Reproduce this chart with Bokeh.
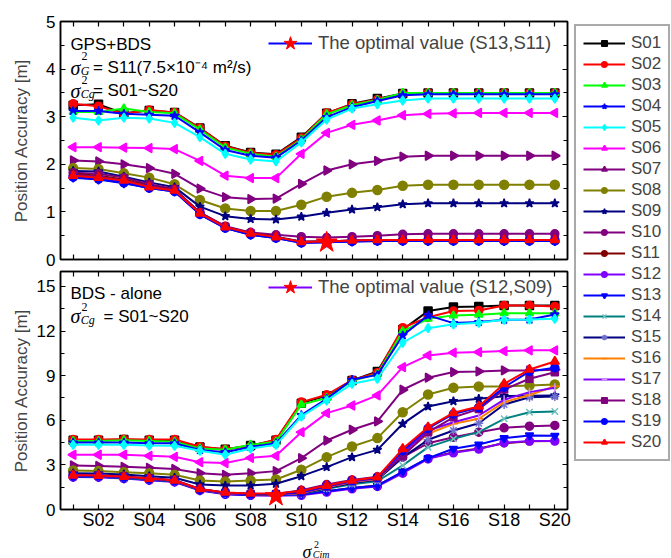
import math
from bokeh.plotting import figure
from bokeh.models import (Range1d, LinearAxis, FixedTicker, SingleIntervalTicker,
                          Legend, LegendItem, Label)
from bokeh.layouts import row, column
from bokeh.embed import file_html
from bokeh.resources import INLINE

# ---------------- data ----------------
X = list(range(1, 21))
TICK_LABELS = ["", "S02", "", "S04", "", "S06", "", "S08", "", "S10",
               "", "S12", "", "S14", "", "S16", "", "S18", "", "S20"]
NAMES = ["S01", "S02", "S03", "S04", "S05", "S06", "S07", "S08", "S09", "S10",
         "S11", "S12", "S13", "S14", "S15", "S16", "S17", "S18", "S19", "S20"]

# GPS+BDS panel
GB_S01 = [3.24, 3.26, 3.07, 3.13, 3.09, 2.76, 2.39, 2.25, 2.21, 2.57, 3.07, 3.27, 3.38, 3.49, 3.50, 3.50, 3.50, 3.50, 3.50, 3.50]
GB_S02 = [3.27, 3.22, 3.06, 3.14, 3.09, 2.76, 2.38, 2.24, 2.20, 2.55, 3.08, 3.26, 3.36, 3.48, 3.50, 3.50, 3.50, 3.50, 3.50, 3.50]
GB_S03 = [3.10, 3.10, 3.17, 3.10, 3.07, 2.73, 2.35, 2.22, 2.16, 2.52, 3.05, 3.24, 3.35, 3.50, 3.50, 3.50, 3.50, 3.50, 3.50, 3.50]
GB_S04 = [3.12, 3.12, 3.06, 3.04, 3.02, 2.67, 2.30, 2.18, 2.14, 2.50, 2.99, 3.20, 3.33, 3.45, 3.47, 3.47, 3.47, 3.47, 3.47, 3.47]
GB_S05 = [2.98, 2.92, 2.98, 2.96, 2.87, 2.57, 2.22, 2.10, 2.06, 2.46, 2.94, 3.17, 3.26, 3.34, 3.38, 3.38, 3.38, 3.38, 3.38, 3.38]
GB_S06 = [2.36, 2.36, 2.35, 2.34, 2.32, 2.07, 1.76, 1.71, 1.71, 2.22, 2.66, 2.83, 2.92, 3.03, 3.06, 3.07, 3.08, 3.08, 3.08, 3.08]
GB_S07 = [2.08, 2.06, 2.00, 1.92, 1.80, 1.49, 1.31, 1.27, 1.28, 1.59, 1.87, 2.00, 2.07, 2.16, 2.18, 2.18, 2.18, 2.18, 2.18, 2.18]
GB_S08 = [1.92, 1.90, 1.81, 1.72, 1.58, 1.25, 1.07, 1.02, 1.02, 1.15, 1.32, 1.40, 1.46, 1.55, 1.57, 1.57, 1.57, 1.57, 1.57, 1.57]
GB_S09 = [1.86, 1.85, 1.74, 1.62, 1.52, 1.11, 0.91, 0.85, 0.84, 0.90, 0.98, 1.05, 1.10, 1.16, 1.18, 1.18, 1.18, 1.18, 1.18, 1.18]
GB_S10 = [1.82, 1.80, 1.72, 1.58, 1.48, 0.99, 0.70, 0.57, 0.52, 0.48, 0.46, 0.48, 0.50, 0.53, 0.54, 0.54, 0.54, 0.54, 0.54, 0.54]
GB_S11 = [1.80, 1.76, 1.68, 1.55, 1.46, 0.98, 0.69, 0.55, 0.48, 0.38, 0.38, 0.40, 0.41, 0.41, 0.41, 0.41, 0.41, 0.41, 0.41, 0.41]
GB_S12 = [1.74, 1.70, 1.62, 1.51, 1.44, 0.96, 0.67, 0.53, 0.46, 0.36, 0.37, 0.39, 0.40, 0.40, 0.40, 0.40, 0.40, 0.40, 0.40, 0.40]
GB_S13 = [1.72, 1.68, 1.60, 1.50, 1.43, 0.95, 0.66, 0.52, 0.45, 0.35, 0.36, 0.38, 0.39, 0.39, 0.39, 0.39, 0.39, 0.39, 0.39, 0.39]
GB_S14 = [1.76, 1.72, 1.64, 1.53, 1.45, 0.97, 0.68, 0.54, 0.47, 0.37, 0.37, 0.39, 0.40, 0.40, 0.40, 0.40, 0.40, 0.40, 0.40, 0.40]
GB_S15 = [1.77, 1.73, 1.65, 1.53, 1.45, 0.97, 0.68, 0.54, 0.47, 0.37, 0.38, 0.39, 0.40, 0.41, 0.41, 0.41, 0.41, 0.41, 0.41, 0.41]
GB_S16 = [1.76, 1.72, 1.64, 1.52, 1.44, 0.96, 0.67, 0.54, 0.46, 0.36, 0.37, 0.39, 0.40, 0.40, 0.40, 0.40, 0.40, 0.40, 0.40, 0.40]
GB_S17 = [1.75, 1.71, 1.63, 1.52, 1.44, 0.96, 0.67, 0.53, 0.46, 0.36, 0.37, 0.39, 0.40, 0.40, 0.40, 0.40, 0.40, 0.40, 0.40, 0.40]
GB_S18 = [1.78, 1.74, 1.66, 1.54, 1.46, 0.98, 0.69, 0.55, 0.47, 0.37, 0.38, 0.40, 0.40, 0.41, 0.41, 0.41, 0.41, 0.41, 0.41, 0.41]
GB_S19 = [1.73, 1.69, 1.61, 1.50, 1.43, 0.95, 0.66, 0.52, 0.45, 0.35, 0.36, 0.38, 0.39, 0.39, 0.39, 0.39, 0.39, 0.39, 0.39, 0.39]
GB_S20 = [1.76, 1.72, 1.66, 1.52, 1.45, 0.97, 0.68, 0.55, 0.47, 0.37, 0.38, 0.40, 0.41, 0.41, 0.41, 0.41, 0.41, 0.41, 0.41, 0.41]

# BDS-alone panel
BD_S01 = [4.65, 4.65, 4.70, 4.65, 4.65, 4.20, 4.05, 4.30, 4.65, 7.15, 7.65, 8.68, 9.28, 12.10, 13.34, 13.61, 13.65, 13.72, 13.72, 13.72]
BD_S02 = [4.70, 4.70, 4.72, 4.70, 4.70, 4.22, 4.05, 4.25, 4.70, 7.22, 7.71, 8.70, 9.20, 12.22, 12.93, 13.34, 13.38, 13.72, 13.72, 13.65]
BD_S03 = [4.60, 4.60, 4.65, 4.60, 4.55, 4.10, 4.02, 4.35, 4.55, 7.05, 7.50, 8.65, 9.10, 11.99, 12.82, 13.05, 13.10, 13.20, 13.20, 13.20]
BD_S04 = [4.50, 4.50, 4.50, 4.45, 4.45, 4.00, 3.85, 4.20, 4.45, 6.35, 7.44, 8.72, 9.05, 11.70, 13.05, 12.53, 12.60, 12.76, 12.77, 13.11]
BD_S05 = [4.35, 4.35, 4.35, 4.30, 4.28, 3.95, 3.68, 4.10, 4.35, 6.25, 7.33, 8.45, 8.79, 11.21, 12.19, 12.45, 12.55, 12.75, 12.77, 12.82]
BD_S06 = [3.68, 3.68, 3.68, 3.61, 3.54, 3.18, 3.12, 3.47, 3.61, 5.20, 6.48, 6.99, 7.67, 9.57, 10.36, 10.54, 10.58, 10.65, 10.70, 10.70]
BD_S07 = [2.96, 2.93, 2.87, 2.80, 2.73, 2.44, 2.33, 2.44, 2.58, 3.45, 4.64, 5.36, 5.92, 8.05, 8.86, 9.24, 9.28, 9.35, 9.35, 9.40]
BD_S08 = [2.62, 2.58, 2.51, 2.44, 2.33, 1.95, 1.88, 1.95, 2.02, 2.67, 3.52, 4.24, 4.80, 6.54, 7.73, 8.18, 8.27, 8.27, 8.34, 8.41]
BD_S09 = [2.44, 2.42, 2.35, 2.24, 2.13, 1.68, 1.61, 1.61, 1.73, 2.24, 2.85, 3.52, 4.01, 5.76, 6.93, 7.28, 7.44, 7.62, 7.65, 7.67]
BD_S10 = [2.33, 2.30, 2.22, 2.10, 1.98, 1.38, 1.12, 1.05, 1.05, 1.30, 1.68, 1.99, 2.20, 3.52, 4.46, 4.86, 5.20, 5.49, 5.60, 5.65]
BD_S11 = [2.25, 2.22, 2.12, 2.00, 1.88, 1.32, 1.05, 0.98, 0.98, 1.02, 1.22, 1.45, 1.62, 2.50, 3.45, 3.85, 4.10, 4.45, 4.58, 4.60]
BD_S12 = [2.18, 2.17, 2.08, 1.97, 1.85, 1.28, 1.02, 0.95, 0.92, 0.95, 1.17, 1.39, 1.55, 2.44, 3.41, 3.81, 4.06, 4.49, 4.60, 4.60]
BD_S13 = [2.20, 2.20, 2.10, 2.00, 1.88, 1.30, 1.05, 0.98, 0.98, 1.00, 1.22, 1.45, 1.60, 2.55, 3.45, 4.08, 4.37, 4.80, 4.98, 4.95]
BD_S14 = [2.25, 2.22, 2.12, 2.02, 1.90, 1.32, 1.08, 1.00, 1.00, 1.05, 1.40, 1.70, 1.90, 2.96, 4.19, 4.75, 5.20, 6.10, 6.54, 6.59]
BD_S15 = [2.27, 2.24, 2.15, 2.05, 1.92, 1.34, 1.08, 1.00, 1.00, 1.08, 1.45, 1.78, 2.00, 3.50, 4.69, 5.31, 5.80, 7.06, 7.55, 7.60]
BD_S16 = [2.28, 2.25, 2.16, 2.06, 1.93, 1.34, 1.10, 1.02, 1.02, 1.10, 1.50, 1.85, 2.05, 3.70, 5.09, 5.76, 6.10, 7.22, 7.70, 8.29]
BD_S17 = [2.28, 2.25, 2.17, 2.06, 1.93, 1.35, 1.10, 1.02, 1.02, 1.12, 1.52, 1.88, 2.08, 3.80, 5.31, 5.87, 6.32, 7.38, 7.89, 8.18]
BD_S18 = [2.30, 2.27, 2.18, 2.08, 1.95, 1.36, 1.12, 1.04, 1.04, 1.15, 1.55, 1.92, 2.12, 3.60, 5.20, 6.20, 6.75, 8.07, 8.79, 9.23]
BD_S19 = [2.28, 2.26, 2.18, 2.07, 1.94, 1.36, 1.12, 1.05, 1.05, 1.18, 1.58, 1.93, 2.14, 3.95, 5.45, 6.42, 6.85, 8.22, 9.28, 9.53]
BD_S20 = [2.30, 2.28, 2.20, 2.08, 1.95, 1.38, 1.15, 1.08, 1.08, 1.25, 1.61, 1.95, 2.17, 4.08, 5.53, 6.50, 6.93, 8.45, 9.41, 9.95]

GB = [GB_S01, GB_S02, GB_S03, GB_S04, GB_S05, GB_S06, GB_S07, GB_S08, GB_S09, GB_S10,
      GB_S11, GB_S12, GB_S13, GB_S14, GB_S15, GB_S16, GB_S17, GB_S18, GB_S19, GB_S20]
BD = [BD_S01, BD_S02, BD_S03, BD_S04, BD_S05, BD_S06, BD_S07, BD_S08, BD_S09, BD_S10,
      BD_S11, BD_S12, BD_S13, BD_S14, BD_S15, BD_S16, BD_S17, BD_S18, BD_S19, BD_S20]

# optimal points
GB_OPT_X, GB_OPT_Y = 11, 0.36
BD_OPT_X, BD_OPT_Y = 9, 0.90

# ---------------- styles ----------------
COLORS = ["#000000", "#FF0000", "#00FF00", "#0000FF", "#00FFFF", "#FF00FF", "#800080", "#808000",
          "#000080", "#800080", "#800000", "#8000FF", "#0000FF", "#008080", "#000080", "#FF8000",
          "#8000FF", "#800080", "#0000FF", "#FF0000"]
MCOLORS = ["#000000", "#FF0000", "#00FF00", "#0000FF", "#00FFFF", "#FF00FF", "#800080", "#808000",
           "#000080", "#800080", "#800000", "#8000FF", "#0000FF", "#70C0C0", "#7070D0", "#FF8000",
           "#D090FF", "#800080", "#0000FF", "#FF0000"]
MARKERS = ["square", "circle", "triangle", "star", "diamond", "triangle", "triangle", "circle",
           "star", "circle", "circle", "circle", "inverted_triangle", "x", "asterisk", "dash",
           "dash", "square", "circle", "triangle"]
ANGLES = [0, 0, 0, 0, 0, math.pi / 2, -math.pi / 2, 0, 0, 0, 0, 0, 0, 0, 0, 0, math.pi / 2, 0, 0, 0]
SIZES = [8, 8, 8, 9, 9, 9, 9, 9, 9, 8, 7, 8, 8, 9, 9, 9, 9, 7, 8, 9]

SANS = "Liberation Sans"
SERIF = "Liberation Serif"


def style_axis(ax, show_labels, font_size="17px"):
    ax.axis_line_color = "black"
    ax.axis_line_width = 1.5
    ax.major_tick_line_color = "black"
    ax.major_tick_line_width = 1.2
    ax.minor_tick_line_color = "black"
    ax.minor_tick_line_width = 1.2
    ax.major_tick_in = 5
    ax.major_tick_out = 0
    ax.minor_tick_in = 4
    ax.minor_tick_out = 0
    if show_labels:
        ax.major_label_text_font = SANS
        ax.major_label_text_font_size = font_size
        ax.major_label_text_color = "black"
    else:
        ax.major_label_text_font_size = "1px"
        ax.major_label_text_color = None
        ax.major_label_standoff = 0


def make_panel(data, ymax, yint, height, mb_top, mb_bottom, show_x, ylabel_standoff):
    p = figure(width=574, height=height, x_range=Range1d(0.5, 20.5), y_range=Range1d(0, ymax),
               toolbar_location=None, output_backend="svg", title=None,
               x_axis_location=None, y_axis_location=None,
               min_border_left=60, min_border_right=7, min_border_top=mb_top,
               min_border_bottom=mb_bottom)
    p.grid.visible = False
    p.outline_line_color = "black"
    p.outline_line_width = 1.5
    p.background_fill_color = "white"
    p.border_fill_color = "white"

    overrides = {x: lab for x, lab in zip(X, TICK_LABELS)}
    below = LinearAxis(ticker=FixedTicker(ticks=X, minor_ticks=[]),
                       major_label_overrides=overrides)
    style_axis(below, show_x, "18px")
    below.major_label_standoff = 0
    above = LinearAxis(ticker=FixedTicker(ticks=X, minor_ticks=[]))
    style_axis(above, False)
    left = LinearAxis(ticker=SingleIntervalTicker(interval=yint, num_minor_ticks=2),
                      axis_label="Position Accuracy [m]")
    style_axis(left, True, "17px")
    left.major_label_standoff = 5
    left.axis_label_text_font = SANS
    left.axis_label_text_font_size = "17px"
    left.axis_label_text_font_style = "normal"
    left.axis_label_standoff = ylabel_standoff
    right = LinearAxis(ticker=SingleIntervalTicker(interval=yint, num_minor_ticks=2))
    style_axis(right, False)
    p.add_layout(below, "below")
    p.add_layout(above, "above")
    p.add_layout(left, "left")
    p.add_layout(right, "right")

    for i, ys in enumerate(data):
        p.line(X, ys, line_color=COLORS[i], line_width=2)
        p.scatter(X, ys, marker=MARKERS[i], size=SIZES[i], angle=ANGLES[i],
                  fill_color=MCOLORS[i], line_color=MCOLORS[i], line_width=1.5)
    return p


def add_label(p, x, y, text, size="17px", font=SANS, style="normal"):
    p.add_layout(Label(x=x, y=y, text=text, text_font=font, text_font_size=size,
                       text_font_style=style, text_color="black",
                       text_baseline="alphabetic", text_align="left"))


def add_opt_legend(p, ox, oy, color, text, loc):
    r_line = p.line([ox], [oy], line_color=color, line_width=2)
    r_star = p.scatter([ox], [oy], marker="star", size=22, fill_color="#FF0000",
                       line_color="#FF0000")
    leg = Legend(items=[LegendItem(label=text, renderers=[r_line, r_star])],
                 location=loc, padding=0, margin=0, spacing=0,
                 glyph_width=44, glyph_height=34, label_height=34, label_standoff=6,
                 label_text_font=SANS, label_text_font_size="18.5px",
                 border_line_color=None, background_fill_alpha=0)
    p.add_layout(leg, "center")


# ---------------- top panel ----------------
top = make_panel(GB, 5, 1, 269, 21, 10, False, 12)
add_opt_legend(top, GB_OPT_X, GB_OPT_Y, "#0000FF", "The optimal value (S13,S11)", (208, 199))
add_label(top, 0.89, 4.52, "GPS+BDS")
add_label(top, 0.89, 4.03, "σ", "20px", SERIF, "italic")
add_label(top, 1.33, 4.27, "2", "12px", SERIF)
add_label(top, 1.30, 3.96, "G", "12px", SERIF, "italic")
add_label(top, 1.78, 4.03, "= S11(7.5×10⁻⁴ m²/s)")
add_label(top, 0.89, 3.55, "σ", "20px", SERIF, "italic")
add_label(top, 1.33, 3.77, "2", "12px", SERIF)
add_label(top, 1.30, 3.47, "Cg", "12px", SERIF, "italic")
add_label(top, 1.78, 3.55, "= S01~S20")

# ---------------- bottom panel ----------------
bot = make_panel(BD, 16, 3, 265, 2, 25, True, 3)
add_opt_legend(bot, BD_OPT_X, BD_OPT_Y, "#8000FF", "The optimal value (S12,S09)", (208, 205))
add_label(bot, 0.89, 14.52, "BDS - alone")
add_label(bot, 0.89, 13.0, "σ", "20px", SERIF, "italic")
add_label(bot, 1.33, 13.6, "2", "12px", SERIF)
add_label(bot, 1.30, 12.72, "Cg", "12px", SERIF, "italic")
add_label(bot, 2.20, 13.0, "= S01~S20")

# ---------------- x-axis title strip (shares the x scale) ----------------
ttl = figure(width=574, height=24, x_range=bot.x_range, y_range=Range1d(0, 24),
             toolbar_location=None, output_backend="svg", title=None,
             x_axis_location=None, y_axis_location=None,
             min_border_left=60, min_border_right=7, min_border_top=0, min_border_bottom=0)
ttl.grid.visible = False
ttl.outline_line_color = None
add_label(ttl, 10.05, 7, "σ", "18px", SERIF, "italic")
add_label(ttl, 10.50, 14, "2", "10px", SERIF)
add_label(ttl, 10.45, 4, "Cim", "10px", SERIF, "italic")

# ---------------- legend figure ----------------
lg = figure(width=97, height=558, x_range=Range1d(100, 101), y_range=Range1d(100, 101),
            toolbar_location=None, output_backend="svg", title=None,
            x_axis_location=None, y_axis_location=None, min_border=0)
lg.grid.visible = False
lg.outline_line_color = None
items = []
for i, name in enumerate(NAMES):
    rl = lg.line(x=X[:2], y=BD[i][:2], line_color=COLORS[i], line_width=2)
    rs = lg.scatter(x=X[:2], y=BD[i][:2], marker=MARKERS[i], angle=ANGLES[i],
                    fill_color=MCOLORS[i], line_color=MCOLORS[i], line_width=1.5)
    items.append(LegendItem(label=name, renderers=[rl, rs]))
legend = Legend(items=items, location=(0, 97), padding=7, margin=0, spacing=1,
                glyph_width=42, glyph_height=14, label_height=20, label_standoff=6,
                label_text_font=SANS, label_text_font_size="17px",
                border_line_color="#555555", border_line_width=2,
                background_fill_color="white", background_fill_alpha=1)
lg.add_layout(legend, "center")

layout = row(column(top, bot, ttl), lg)

html = file_html(layout, INLINE, title="Position Accuracy")
open("out.html", "w").write(html)
